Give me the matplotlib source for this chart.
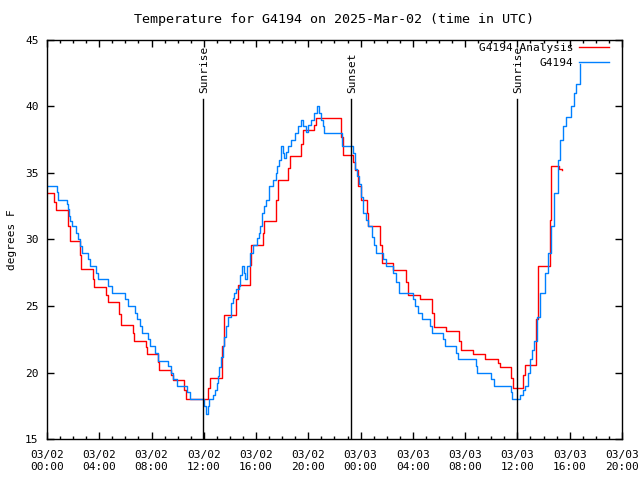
import matplotlib
matplotlib.use("Agg")
import matplotlib.pyplot as plt
from matplotlib.ticker import MultipleLocator

# hours since 2025-03-02 00:00 UTC
obs_t = [0.0, 0.74, 0.85, 1.5, 1.6, 1.7, 1.8, 1.91, 2.19, 2.4, 2.55, 2.65, 3.16, 3.3, 3.75, 3.93,
         4.69, 4.95, 5.97, 6.22, 6.73, 6.9, 7.1, 7.24, 7.75, 7.9, 8.26, 8.52, 9.28, 9.5, 9.67, 9.92,
         10.69, 10.94, 12.0, 12.17, 12.3, 12.4, 12.67, 12.85, 13.0, 13.1, 13.2, 13.3, 13.45, 13.54,
         13.7, 13.87, 14.05, 14.2, 14.33, 14.5, 14.66, 14.8, 14.94, 15.05, 15.15, 15.3, 15.53, 15.74,
         16.04, 16.2, 16.3, 16.45, 16.6, 16.73, 16.99, 17.27, 17.52, 17.62, 17.72, 17.9, 18.05, 18.16,
         18.3, 18.41, 18.7, 18.96, 19.2, 19.41, 19.6, 19.8, 20.0, 20.17, 20.4, 20.68, 20.8, 20.95,
         21.1, 21.22, 22.55, 23.44, 23.6, 23.75, 23.9, 24.0, 24.2, 24.4, 24.6, 24.84, 25.0, 25.17,
         25.68, 25.94, 26.5, 26.7, 26.96, 27.98, 28.2, 28.4, 28.67, 29.3, 29.5, 30.3, 30.48, 31.3,
         31.47, 32.8, 32.92, 34.0, 34.2, 35.48, 35.6, 36.19, 36.4, 36.57, 36.8, 36.95, 37.1, 37.25,
         37.5, 37.76, 38.1, 38.36, 38.54, 38.79, 39.07, 39.25, 39.5, 39.75, 40.07, 40.3, 40.47, 40.78]
obs_v = [34.0, 33.6, 33.0, 32.7, 32.3, 31.8, 31.4, 31.0, 30.5, 30.0, 29.5, 29.0, 28.5, 28.0, 27.5, 27.0,
         26.5, 26.0, 25.5, 25.0, 24.5, 24.0, 23.5, 23.0, 22.5, 22.0, 21.5, 20.9, 20.5, 20.0, 19.5, 19.0,
         18.5, 18.0, 17.5, 16.9, 17.5, 18.0, 18.3, 18.7, 19.2, 19.7, 20.4, 21.2, 22.0, 22.7,
         23.5, 24.2, 25.2, 25.6, 26.0, 26.3, 26.5, 27.3, 28.0, 27.5, 27.0, 28.0, 29.0, 29.6,
         30.1, 30.5, 31.0, 32.0, 32.5, 33.0, 34.0, 34.5, 35.0, 35.5, 36.0, 37.0, 36.5, 36.1,
         36.6, 37.0, 37.5, 38.0, 38.5, 39.0, 38.5, 38.1, 38.6, 39.0, 39.5, 40.0, 39.5, 39.0,
         38.5, 38.0, 37.0, 36.5, 35.3, 34.8, 34.2, 33.2, 32.0, 31.5, 31.0, 30.2, 29.6, 29.0,
         28.5, 28.0, 27.5, 26.8, 26.0, 25.5, 25.0, 24.5, 24.0, 23.5, 23.0, 22.5, 22.0, 21.5,
         21.0, 20.5, 20.0, 19.5, 19.0, 18.5, 18.0, 18.3, 18.7, 19.0, 20.0, 21.0, 21.7, 22.4,
         24.2, 26.0, 27.5, 29.0, 31.0, 33.5, 36.0, 37.5, 38.5, 39.2, 40.0, 41.0, 41.7, 43.2]

ana_t = [0.0, 0.54, 0.7, 1.6, 1.8, 2.5, 2.6, 3.5, 3.6, 4.55, 4.65, 5.5, 5.65, 6.55, 6.65, 7.55, 7.65,
         8.5, 8.6, 9.5, 9.62, 10.5, 10.65, 12.34, 12.5, 13.4, 13.55, 14.45, 14.6, 15.5, 15.62,
         16.5, 16.62, 17.52, 17.65, 18.46, 18.6, 19.43, 19.6, 20.45, 20.6, 22.5, 22.65, 23.45, 23.6,
         23.8, 24.0, 24.46, 24.6, 25.48, 25.65, 26.5, 27.44, 27.6, 28.54, 29.5, 29.65, 30.5, 31.5,
         31.65, 32.57, 33.54, 34.5, 34.65, 35.5, 35.65, 36.44, 36.6, 37.4, 37.55, 38.49, 38.6,
         39.2, 39.4]
ana_v = [33.5, 32.8, 32.2, 31.0, 29.9, 28.8, 27.8, 27.0, 26.4, 25.8, 25.3, 24.4, 23.6, 23.0, 22.4, 21.9, 21.4,
         20.8, 20.2, 19.8, 19.4, 18.7, 18.0, 18.8, 19.6, 22.0, 24.3, 25.5, 26.6, 28.1, 29.6,
         30.5, 31.4, 33.0, 34.5, 35.4, 36.25, 37.2, 38.2, 38.6, 39.1, 37.7, 36.35, 35.8, 35.2,
         34.0, 33.0, 32.0, 31.0, 29.6, 28.2, 27.7, 26.8, 25.8, 25.5, 24.5, 23.4, 23.1, 22.4,
         21.7, 21.4, 21.0, 20.7, 20.4, 19.6, 18.85, 19.8, 20.6, 24.0, 28.0, 31.5, 35.5,
         35.3, 35.2]

sun_t = [11.96, 23.28, 35.97]
sun_lbl = ["Sunrise", "Sunset", "Sunrise"]

tick_h = list(range(0, 45, 4))
tick_lbl = ["03/02\n%02d:00" % h if h < 24 else "03/03\n%02d:00" % (h - 24) for h in tick_h]

plt.rcParams['font.family'] = 'DejaVu Sans Mono'
plt.rcParams['font.size'] = 8

fig = plt.figure(figsize=(6.4, 4.8), dpi=100)
ax = fig.add_axes([0.0734, 0.0854, 0.8984, 0.8313])

ax.plot(ana_t, ana_v, color='#ff0000', lw=1.0, drawstyle='steps-post', label='G4194 Analysis')
ax.plot(obs_t, obs_v, color='#0080ff', lw=1.0, drawstyle='steps-post', label='G4194')

for t, s in zip(sun_t, sun_lbl):
    ax.plot([t, t], [15, 40.6], color='black', lw=1.0)
    ax.text(t + 0.1, 41.0, s, rotation=90, ha='center', va='bottom')

ax.set_xlim(0, 44)
ax.set_ylim(15, 45)
ax.set_xticks(tick_h)
ax.set_xticklabels(tick_lbl)
ax.xaxis.set_minor_locator(MultipleLocator(1))
ax.set_yticks(range(15, 46, 5))
ax.tick_params(direction='in', top=True, right=True, length=5, width=1, pad=6)
ax.tick_params(axis='x', pad=8)
ax.tick_params(which='minor', direction='in', top=True, bottom=True, length=2.5, width=1)
ax.set_ylabel('degrees F', labelpad=6)
ax.set_title('Temperature for G4194 on 2025-Mar-02 (time in UTC)', pad=12)
for sp in ax.spines.values():
    sp.set_linewidth(1.0)

ax.legend(loc='upper right', bbox_to_anchor=(0.983, 1.0), frameon=False, markerfirst=False,
          handlelength=2.7, borderaxespad=0.1, borderpad=0.2, labelspacing=0.45, handletextpad=0.5)

fig.savefig('out.png', dpi=100)
